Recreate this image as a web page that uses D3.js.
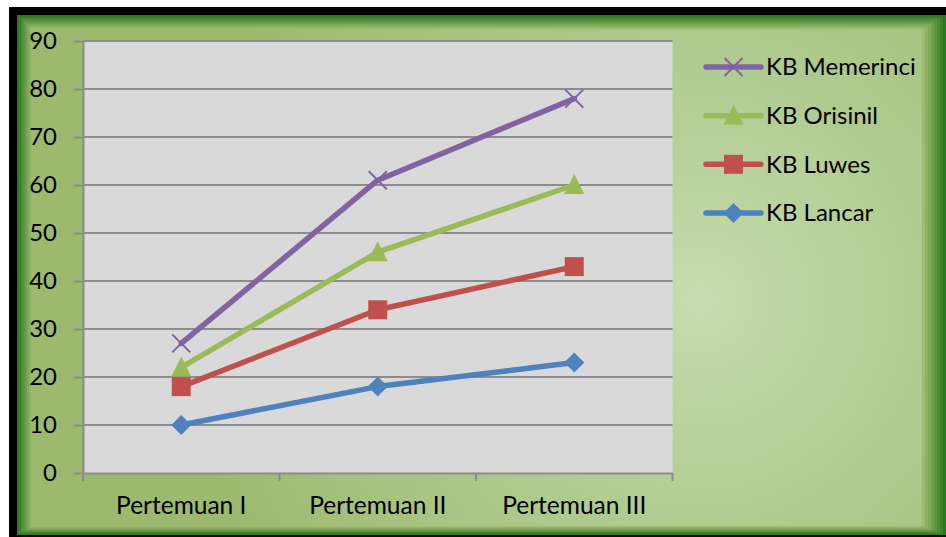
<!DOCTYPE html>
<html>
<head>
<meta charset="utf-8">
<script src="https://cdn.jsdelivr.net/npm/d3@7"></script>
<style>
  html, body { margin: 0; padding: 0; background: #ffffff; }
  svg { display: block; }
  text { font-family: Lato, "Open Sans", sans-serif; fill: #000; }
</style>
</head>
<body>
<svg id="chart" width="946" height="537"></svg>
<script>
// ---------------- data ----------------
const categories = ["Pertemuan I", "Pertemuan II", "Pertemuan III"];
const seriesNames = ["KB Lancar", "KB Luwes", "KB Orisinil", "KB Memerinci"];
const lancar = [10, 18, 23];
const luwes = [18, 34, 43];
const orisinil = [22, 46, 60];
const memerinci = [27, 61, 78];
const yTicks = [0, 10, 20, 30, 40, 50, 60, 70, 80, 90];
const legendOrder = ["KB Memerinci", "KB Orisinil", "KB Luwes", "KB Lancar"];

const seriesValues = { "KB Lancar": lancar, "KB Luwes": luwes, "KB Orisinil": orisinil, "KB Memerinci": memerinci };
const colors = { "KB Lancar": "#4F81BD", "KB Luwes": "#C0504D", "KB Orisinil": "#9BBB59", "KB Memerinci": "#8064A2" };
const markers = { "KB Lancar": "diamond", "KB Luwes": "square", "KB Orisinil": "triangle", "KB Memerinci": "x" };

const svg = d3.select("#chart");
const defs = svg.append("defs");

// ---------------- frame ----------------
svg.append("rect").attr("x", 9).attr("y", 7).attr("width", 946 - 9).attr("height", 537 - 7).attr("fill", "#000");

const bandColor = d3.interpolateRgb("#2c781e", "#9fbb70");
const nBands = 8;
for (let i = 0; i < nBands; i++) {
  const l = 17 + i * 2.0, t = 15 + i * 1.8, r = 946 - i * 3.0, b = 535 - i * 1.1;
  svg.append("rect").attr("x", l).attr("y", t).attr("width", r - l).attr("height", b - t)
    .attr("fill", bandColor(i / (nBands - 1)));
}
const rg = defs.append("radialGradient").attr("id", "bg")
  .attr("gradientUnits", "userSpaceOnUse").attr("cx", 700).attr("cy", 300).attr("r", 520);
rg.append("stop").attr("offset", 0).attr("stop-color", "#c6dcad");
rg.append("stop").attr("offset", 0.45).attr("stop-color", "#b0cb90");
rg.append("stop").attr("offset", 1).attr("stop-color", "#9db96d");
{
  const i = nBands;
  const l = 17 + i * 2.0, t = 15 + i * 1.8, r = 946 - i * 3.0, b = 535 - i * 1.1;
  svg.append("rect").attr("x", l).attr("y", t).attr("width", r - l).attr("height", b - t).attr("fill", "url(#bg)");
}

// ---------------- scales ----------------
const plot = { left: 83, right: 672.5, top: 41, bottom: 473 };
const x = d3.scaleBand().domain(categories).range([plot.left, plot.right]);
const y = d3.scaleLinear().domain([0, 90]).range([plot.bottom, plot.top]);
const cx = c => x(c) + x.bandwidth() / 2;

// plot area
svg.append("rect").attr("x", plot.left).attr("y", plot.top)
  .attr("width", plot.right - plot.left).attr("height", plot.bottom - plot.top).attr("fill", "#d9d9d9");

// gridlines
svg.append("g").selectAll("line").data(yTicks.filter(d => d > 0)).join("line")
  .attr("x1", plot.left).attr("x2", plot.right)
  .attr("y1", d => y(d)).attr("y2", d => y(d))
  .attr("stroke", "#8c8c8c").attr("stroke-width", 2);

// y axis
const yAxis = svg.append("g").attr("transform", `translate(${plot.left},0)`)
  .call(d3.axisLeft(y).tickValues(yTicks).tickSize(9).tickPadding(17).tickSizeOuter(0));
yAxis.select(".domain").attr("stroke", "#8c8c8c").attr("stroke-width", 2);
yAxis.selectAll(".tick line").attr("stroke", "#8c8c8c").attr("stroke-width", 2);
yAxis.selectAll(".tick text").attr("font-size", 24).attr("font-family", "Lato, sans-serif").attr("fill", "#000");

// x axis
const xAxis = svg.append("g").attr("transform", `translate(0,${plot.bottom})`)
  .call(d3.axisBottom(x).tickSize(0).tickPadding(24));
xAxis.select(".domain").attr("stroke", "#8c8c8c").attr("stroke-width", 2);
xAxis.selectAll(".tick text").attr("font-size", 24.5).attr("font-family", "Lato, sans-serif").attr("fill", "#000");
const xTickPos = [plot.left, ...categories.map(c => x(c) + x.bandwidth())];
svg.append("g").selectAll("line").data(xTickPos).join("line")
  .attr("x1", d => d).attr("x2", d => d).attr("y1", plot.bottom).attr("y2", plot.bottom + 8)
  .attr("stroke", "#8c8c8c").attr("stroke-width", 2);

// ---------------- markers ----------------
function drawMarker(g, type, px, py, color) {
  if (type === "diamond") {
    g.append("path").attr("d", `M${px},${py - 10}L${px + 10},${py}L${px},${py + 10}L${px - 10},${py}Z`).attr("fill", color);
  } else if (type === "square") {
    g.append("rect").attr("x", px - 9.5).attr("y", py - 9.5).attr("width", 19).attr("height", 19).attr("fill", color);
  } else if (type === "triangle") {
    g.append("path").attr("d", `M${px},${py - 11}L${px + 10},${py + 9}L${px - 10},${py + 9}Z`).attr("fill", color);
  } else if (type === "x") {
    g.append("path").attr("d", `M${px - 9},${py - 9}L${px + 9},${py + 9}M${px + 9},${py - 9}L${px - 9},${py + 9}`)
      .attr("stroke", color).attr("stroke-width", 2).attr("fill", "none");
  }
}

// ---------------- lines ----------------
const line = d3.line().x((d, i) => cx(categories[i])).y(d => y(d));
seriesNames.forEach(name => {
  const g = svg.append("g");
  g.append("path").datum(seriesValues[name]).attr("d", line)
    .attr("fill", "none").attr("stroke", colors[name]).attr("stroke-width", 5.5)
    .attr("stroke-linejoin", "round").attr("stroke-linecap", "round");
  seriesValues[name].forEach((v, i) => drawMarker(g, markers[name], cx(categories[i]), y(v), colors[name]));
});

// ---------------- legend ----------------
const legY = d3.scalePoint().domain(legendOrder).range([67, 213]);
legendOrder.forEach(name => {
  const g = svg.append("g");
  const ly = legY(name);
  g.append("line").attr("x1", 706).attr("x2", 761).attr("y1", ly).attr("y2", ly)
    .attr("stroke", colors[name]).attr("stroke-width", 5.5).attr("stroke-linecap", "round");
  drawMarker(g, markers[name], 733.5, ly, colors[name]);
  g.append("text").attr("x", 766).attr("y", ly).attr("dy", "0.35em")
    .attr("font-size", 24).text(name);
});
</script>
</body>
</html>
